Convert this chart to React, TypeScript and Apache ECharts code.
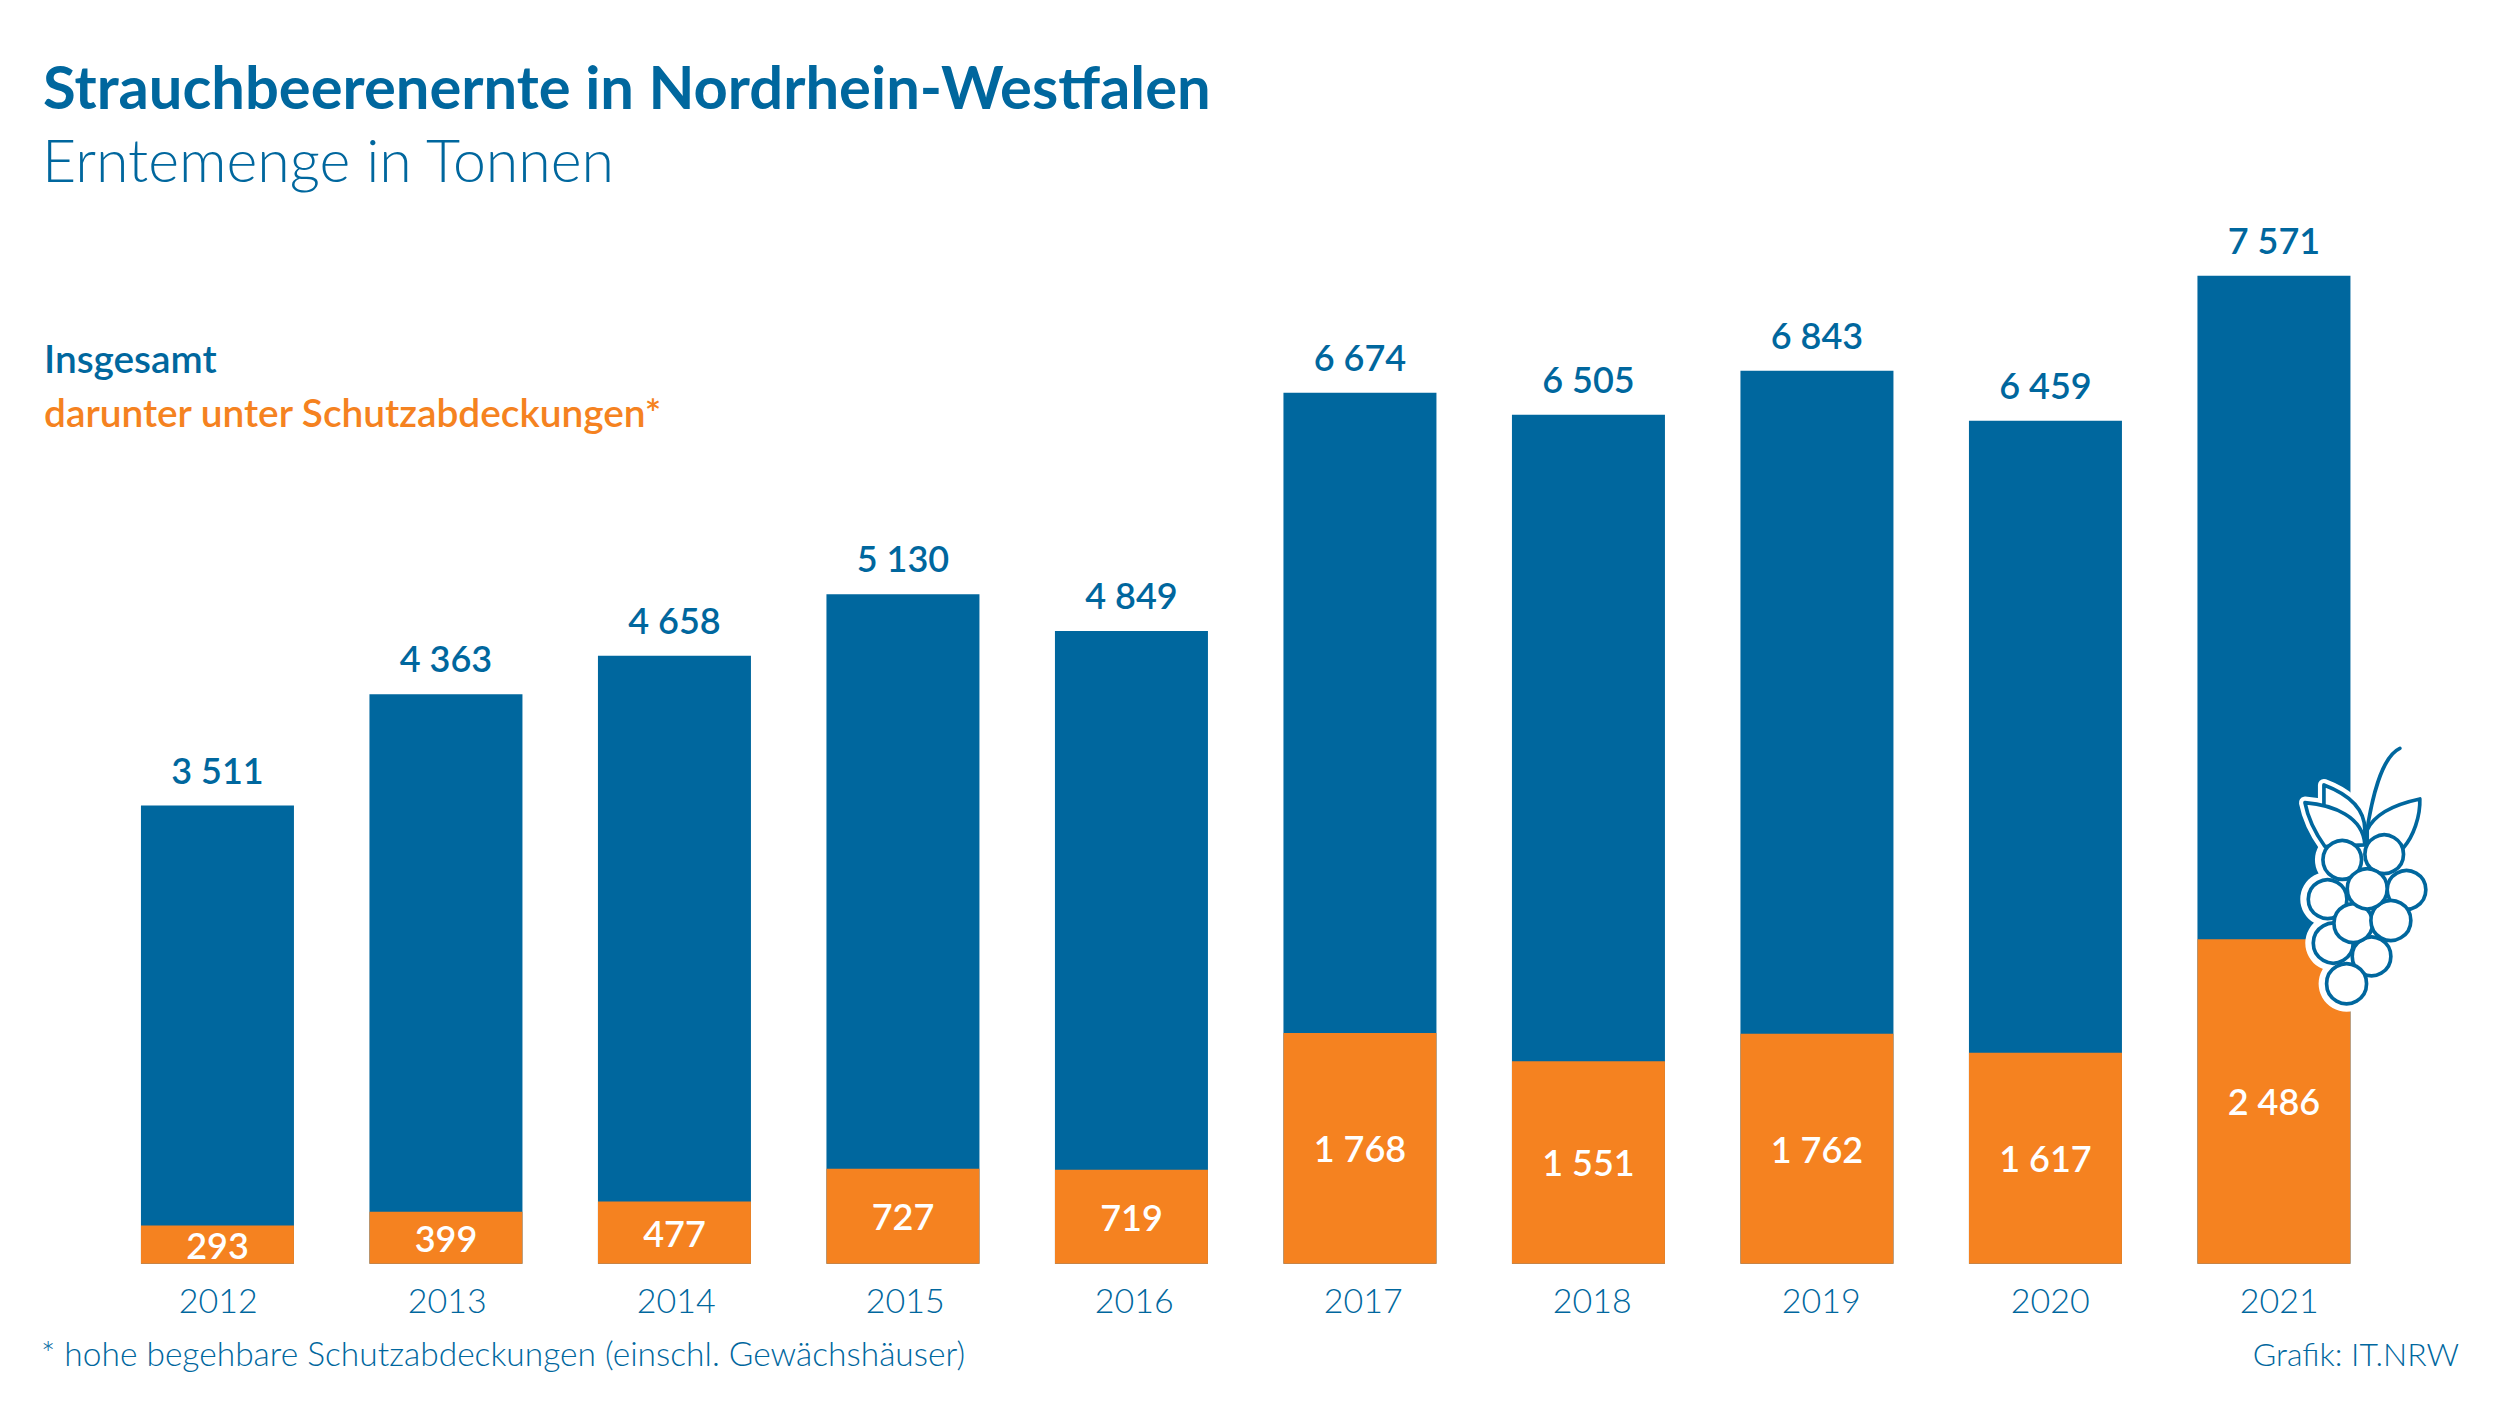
import React, { useEffect, useRef } from "react";
import * as echarts from "echarts";

const years = ["2012", "2013", "2014", "2015", "2016", "2017", "2018", "2019", "2020", "2021"];
const totalValues = [3511, 4363, 4658, 5130, 4849, 6674, 6505, 6843, 6459, 7571];
const coveredValues = [293, 399, 477, 727, 719, 1768, 1551, 1762, 1617, 2486];
const titleText = "Strauchbeerenernte in Nordrhein-Westfalen";
const subtitleText = "Erntemenge in Tonnen";
const totalName = "Insgesamt";
const coveredName = "darunter unter Schutzabdeckungen*";
const footnoteText = "* hohe begehbare Schutzabdeckungen (einschl. Gewächshäuser)";
const creditText = "Grafik: IT.NRW";

const BLUE = "#00679E";
const ORANGE = "#F58220";
const FONT = "Lato";
const TOP_Z = 100;

const leafRight = "M352,300 C375,250 440,222 510,207 C512,260 490,320 462,352 L352,352 Z";
const leafBack = "M222,165 C275,185 345,225 345,300 L345,340 L222,300 Z";
const leafFront = "M165,218 C250,225 340,260 345,345 L225,350 C200,315 175,270 165,218 Z";
const stem = "M350,310 C365,210 395,80 450,55";

echarts.graphic.registerShape("berryLeafRight", echarts.graphic.extendPath(leafRight, {}));
echarts.graphic.registerShape("berryLeafBack", echarts.graphic.extendPath(leafBack, {}));
echarts.graphic.registerShape("berryLeafFront", echarts.graphic.extendPath(leafFront, {}));
echarts.graphic.registerShape("berryStem", echarts.graphic.extendPath(stem, {}));

// back to front
const berries: [number, number, number][] = [
  [365, 680, 58],
  [470, 480, 58],
  [403, 373, 58],
  [277, 390, 58],
  [233, 508, 58],
  [250, 640, 60],
  [290, 762, 60],
  [310, 580, 58],
  [423, 572, 60],
  [352, 477, 60],
];

const fmt = (v: number) => String(v).replace(/\B(?=(\d{3})$)/, " ");

function berryGraphic() {
  const children: any[] = [];
  ["berryLeafBack", "berryLeafFront"].forEach((t) =>
    children.push({ type: t, z: TOP_Z, style: { fill: "#fff", stroke: "#fff", lineWidth: 36, lineJoin: "round" } })
  );
  berries.forEach(([cx, cy, r]) =>
    children.push({ type: "circle", z: TOP_Z, shape: { cx, cy, r: r + 24 }, style: { fill: "#fff" } })
  );
  children.push({ type: "berryStem", z: TOP_Z, style: { fill: "none", stroke: BLUE, lineWidth: 11, lineCap: "round" } });
  ["berryLeafRight", "berryLeafBack", "berryLeafFront"].forEach((t) =>
    children.push({ type: t, z: TOP_Z, style: { fill: "#fff", stroke: BLUE, lineWidth: 11, lineJoin: "round" } })
  );
  berries.forEach(([cx, cy, r]) =>
    children.push({ type: "circle", z: TOP_Z, shape: { cx, cy, r }, style: { fill: "#fff", stroke: BLUE, lineWidth: 11 } })
  );
  return { type: "group", x: 2250, y: 730, scaleX: 1 / 3, scaleY: 1 / 3, z: TOP_Z, children };
}

export default function App() {
  const ref = useRef<HTMLDivElement>(null);
  useEffect(() => {
    document.body.style.margin = "0";
    const chart = echarts.init(ref.current!, undefined, { renderer: "svg" });
    chart.setOption({
      animation: false,
      backgroundColor: "#fff",
      textStyle: { fontFamily: FONT },
      title: [
        {
          text: titleText,
          left: 43,
          top: 56,
          padding: 0,
          textStyle: { fontFamily: FONT, fontSize: 59.7, fontWeight: 700, color: BLUE },
        },
        {
          text: subtitleText,
          left: 42,
          top: 130,
          padding: 0,
          textStyle: { fontFamily: FONT, fontSize: 59, fontWeight: 300, color: BLUE },
        },
      ],
      legend: {
        left: 44,
        top: 338,
        orient: "vertical",
        icon: "none",
        itemWidth: 0,
        itemHeight: 0,
        itemGap: 15,
        padding: 0,
        selectedMode: false,
        data: [
          { name: totalName, textStyle: { color: BLUE } },
          { name: coveredName, textStyle: { color: ORANGE } },
        ],
        textStyle: { fontFamily: FONT, fontSize: 38.8, fontWeight: 600, padding: [0, 0, 0, -5] },
      },
      grid: [
        { left: 103.2, width: 2285, top: 219.7, height: 1044, containLabel: false },
        { left: 103.8, width: 2290, top: 219.7, height: 1044, containLabel: false },
      ],
      xAxis: [
        {
          type: "category",
          gridIndex: 0,
          data: years,
          axisLine: { show: false },
          axisTick: { show: false },
          axisLabel: { show: false },
        },
        {
          type: "category",
          gridIndex: 1,
          data: years,
          axisLine: { show: false },
          axisTick: { show: false },
          axisLabel: { show: true, interval: 0, margin: 19, fontFamily: FONT, fontSize: 34, fontWeight: 300, color: BLUE },
        },
      ],
      yAxis: [
        { type: "value", gridIndex: 0, min: 0, max: 8000, interval: 1000, show: false },
        { type: "value", gridIndex: 1, min: 0, max: 8000, interval: 1000, show: false },
      ],
      series: [
        {
          name: totalName,
          type: "bar",
          data: totalValues,
          barWidth: 153,
          barGap: "-100%",
          itemStyle: { color: BLUE },
          label: {
            show: true,
            position: "top",
            distance: 18,
            formatter: (p: any) => fmt(p.value),
            fontFamily: FONT,
            fontSize: 36,
            fontWeight: 600,
            color: BLUE,
          },
        },
        {
          name: coveredName,
          type: "bar",
          data: coveredValues,
          barWidth: 153,
          barGap: "-100%",
          itemStyle: { color: ORANGE },
          label: {
            show: true,
            position: "inside",
            formatter: (p: any) => fmt(p.value),
            fontFamily: FONT,
            fontSize: 36,
            fontWeight: 600,
            color: "#fff",
          },
        },
      ],
      graphic: {
        z: TOP_Z,
        elements: [
          {
            type: "text",
            x: 41,
            y: 1353,
            style: { text: footnoteText, fontFamily: FONT, fontSize: 33.5, fontWeight: 300, fill: BLUE, align: "left", verticalAlign: "middle" },
          },
          {
            type: "text",
            x: 2459,
            y: 1353,
            style: { text: creditText, fontFamily: FONT, fontSize: 32, fontWeight: 300, fill: BLUE, align: "right", verticalAlign: "middle" },
          },
          berryGraphic(),
        ],
      },
    });
    return () => chart.dispose();
  }, []);
  return <div ref={ref} style={{ width: 2500, height: 1406 }} />;
}
